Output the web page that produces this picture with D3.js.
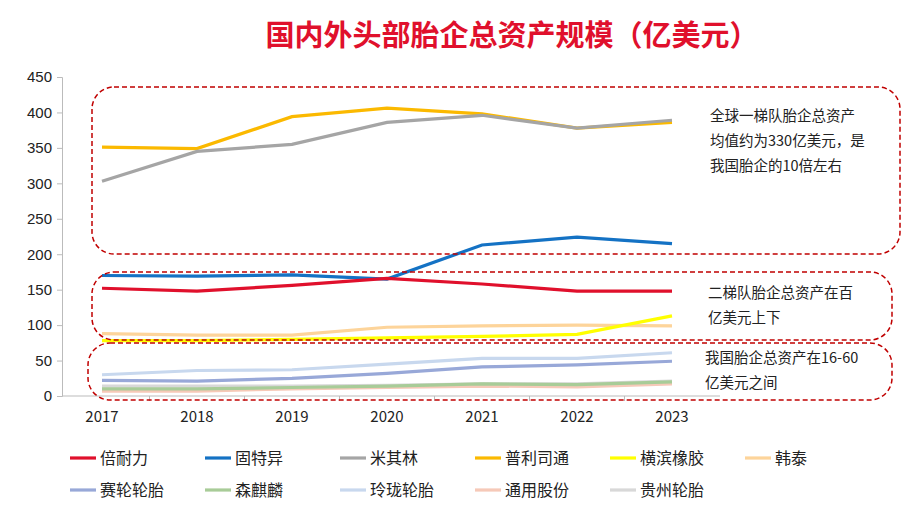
<!DOCTYPE html>
<html><head><meta charset="utf-8">
<script src="https://cdn.jsdelivr.net/npm/d3@7"></script>
<style>body{margin:0;background:#fff;font-family:"Noto Sans CJK SC","Noto Sans",sans-serif}</style>
</head><body><svg id="plot" width="922" height="521"></svg>
<script>
const years = ["2017","2018","2019","2020","2021","2022","2023"];
const names = ["倍耐力","固特异","米其林","普利司通","横滨橡胶","韩泰","赛轮轮胎","森麒麟","玲珑轮胎","通用股份","贵州轮胎"];
const colors = ["#e0102c","#1472c4","#a5a5a5","#fbb900","#ffff00","#fdd49a","#98a8d8","#a8cc98","#c8d8ee","#f6c9b8","#d8d8d8"];
const pirelli = [152,148,156,166,158,148,148];
const goodyear = [170,169,171,165,213,224,215];
const michelin = [303,345,355,386,396,378,389];
const bridgestone = [351,349,394,406,398,378,386];
const yokohama = [78,78,80,82,84,87,113];
const hankook = [88,86,86,97,99,100,99];
const sailun = [22,21,25,32,41,44,49];
const sentury = [10,10,12,14,17,16,20];
const linglong = [30,36,37,45,53,53,61];
const general = [7,7,10,12,14,13,17];
const guizhou = [14,14,14,15,17,17,21];
const series = [pirelli,goodyear,michelin,bridgestone,yokohama,hankook,sailun,sentury,linglong,general,guizhou];
const yTicks = [0,50,100,150,200,250,300,350,400,450];

const svg = d3.select("#plot");
const x = d3.scalePoint().domain(years).range([102,672]);
const y = d3.scaleLinear().domain([0,450]).range([396,77]);

svg.append("text").attr("x",512).attr("y",46).attr("text-anchor","middle")
  .attr("fill","#e0102c").attr("font-size",29).attr("font-weight","bold").text("国内外头部胎企总资产规模（亿美元）");

// y axis
const yAxis = svg.append("g").attr("transform","translate(62,0)")
  .call(d3.axisLeft(y).tickValues(yTicks).tickSize(5));
yAxis.selectAll("text").attr("font-size",15).attr("fill","#222").attr("x",-10);
yAxis.selectAll("line,path").attr("stroke","#bbb");

// x axis line and ticks
svg.append("line").attr("x1",62).attr("x2",720).attr("y1",396).attr("y2",396).attr("stroke","#bbb");
years.forEach((yr,i)=>{
  if(i>0) svg.append("line").attr("x1",x(yr)-47.5).attr("x2",x(yr)-47.5).attr("y1",396).attr("y2",401).attr("stroke","#bbb");
  svg.append("text").attr("x",x(yr)).attr("y",422).attr("text-anchor","middle").attr("font-size",15).attr("fill","#222").text(yr);
});

const line = d3.line().x((d,i)=>x(years[i])).y(d=>y(d));
for(let k=series.length-1;k>=0;k--){
  svg.append("path").datum(series[k]).attr("d",line).attr("fill","none")
    .attr("stroke",colors[k]).attr("stroke-width",3.2);
}

// annotation boxes
const boxes = [[92,87,808,167],[92,272,800,68],[88,343,804,57]];
boxes.forEach(b=>svg.append("rect").attr("x",b[0]).attr("y",b[1]).attr("width",b[2]).attr("height",b[3])
  .attr("rx",22).attr("fill","none").attr("stroke","#c00000").attr("stroke-width",1.5).attr("stroke-dasharray","5,3"));
const notes = [[710,121,["全球一梯队胎企总资产","均值约为330亿美元，是","我国胎企的10倍左右"]],
  [708,298,["二梯队胎企总资产在百","亿美元上下"]],[705,363,["我国胎企总资产在16-60","亿美元之间"]]];
notes.forEach(n=>n[2].forEach((t,i)=>svg.append("text").attr("x",n[0]).attr("y",n[1]+i*25)
  .attr("font-size",14.5).attr("fill","#222").text(t)));

// legend
names.forEach((nm,i)=>{
  const col=i%6,row=Math.floor(i/6);
  const lx=70+col*135,ly=458+row*32;
  svg.append("line").attr("x1",lx).attr("x2",lx+26).attr("y1",ly).attr("y2",ly).attr("stroke",colors[i]).attr("stroke-width",3.2);
  svg.append("text").attr("x",lx+30).attr("y",ly+6).attr("font-size",16).attr("fill","#222").text(nm);
});
</script></body></html>
